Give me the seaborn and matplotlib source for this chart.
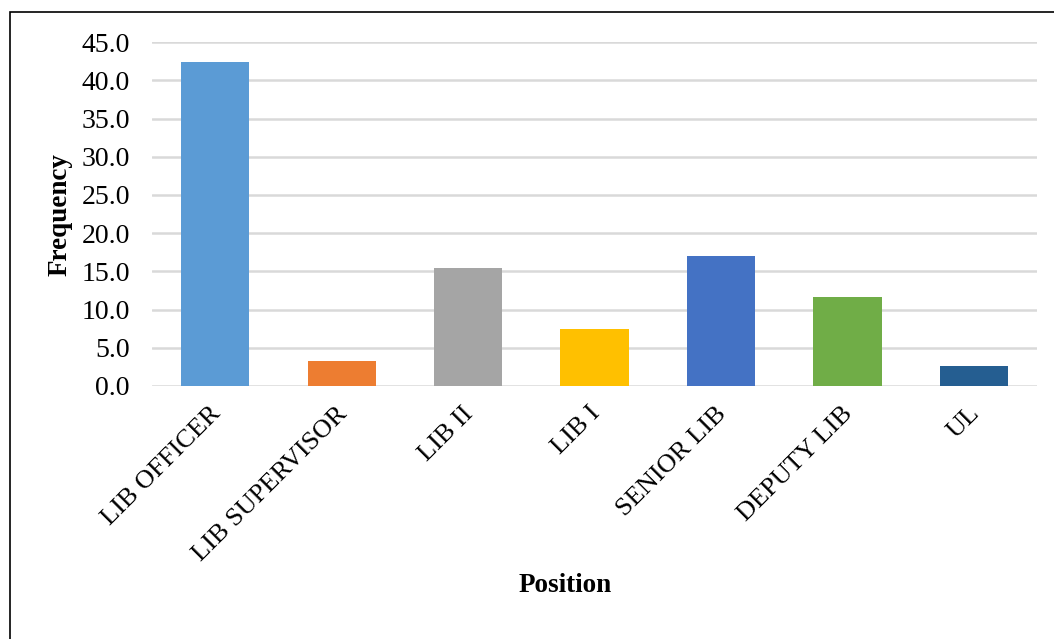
import matplotlib as mpl
import matplotlib.pyplot as plt
from matplotlib.patches import Rectangle
from matplotlib.transforms import ScaledTranslation
import numpy as np
import pandas as pd
import seaborn as sns

positions = ["LIB OFFICER", "LIB SUPERVISOR", "LIB II", "LIB I",
             "SENIOR LIB", "DEPUTY LIB", "UL"]
frequency = [42.4, 3.3, 15.4, 7.5, 17.0, 11.6, 2.6]
bar_colors = ["#5B9BD5", "#ED7D31", "#A5A5A5", "#FFC000",
              "#4472C4", "#70AD47", "#255E91"]
y_ticks = [0, 5, 10, 15, 20, 25, 30, 35, 40, 45]

sns.set_style("white")
mpl.rcParams["font.family"] = ["Liberation Serif", "DejaVu Serif"]
mpl.rcParams["text.color"] = "black"
mpl.rcParams["axes.labelcolor"] = "black"
mpl.rcParams["xtick.color"] = "black"
mpl.rcParams["ytick.color"] = "black"

df = pd.DataFrame({"Position": positions, "Frequency": frequency})

fig = plt.figure(figsize=(10.54, 6.39), dpi=100)
ax = fig.add_axes([0.1442, 0.396, 0.984 - 0.1442, 0.934 - 0.396])

sns.barplot(
    data=df,
    x="Position",
    y="Frequency",
    hue="Position",
    palette=bar_colors,
    saturation=1,
    width=0.54,
    linewidth=0,
    legend=False,
    ax=ax,
    zorder=3,
)

ax.set_ylim(0, 45)
ax.set_xlim(-0.5, len(positions) - 0.5)
ax.set_yticks(y_ticks)
ax.set_yticklabels([f"{v:.1f}" for v in y_ticks], fontsize=20)
ax.yaxis.grid(True, color="#D9D9D9", linewidth=1.8, zorder=0)
ax.set_axisbelow(True)
for s in ax.spines.values():
    s.set_visible(False)
ax.tick_params(axis="both", length=0)
ax.tick_params(axis="y", pad=16)
ax.tick_params(axis="x", pad=12)
shift = ScaledTranslation(-6 / 100, 0, fig.dpi_scale_trans)
for lbl in ax.get_xticklabels():
    lbl.set_rotation(45)
    lbl.set_ha("right")
    lbl.set_rotation_mode("anchor")
    lbl.set_fontsize(19)
    lbl.set_transform(lbl.get_transform() + shift)

ax.set_ylabel("Frequency", fontsize=19.5, fontweight="bold", labelpad=6)
ax.set_xlabel("")
fig.text(0.536, 1 - 585 / 639, "Position", ha="center", va="center",
         fontsize=19.5, fontweight="bold")

# outer frame (cut off on the right and bottom)
top = 1 - 12 / 639
fig.patches.append(Rectangle((10 / 1054, -0.2), 1.3, top + 0.2,
                             transform=fig.transFigure, fill=False,
                             edgecolor="black", linewidth=1.2))

fig.savefig("out.png", dpi=100)
